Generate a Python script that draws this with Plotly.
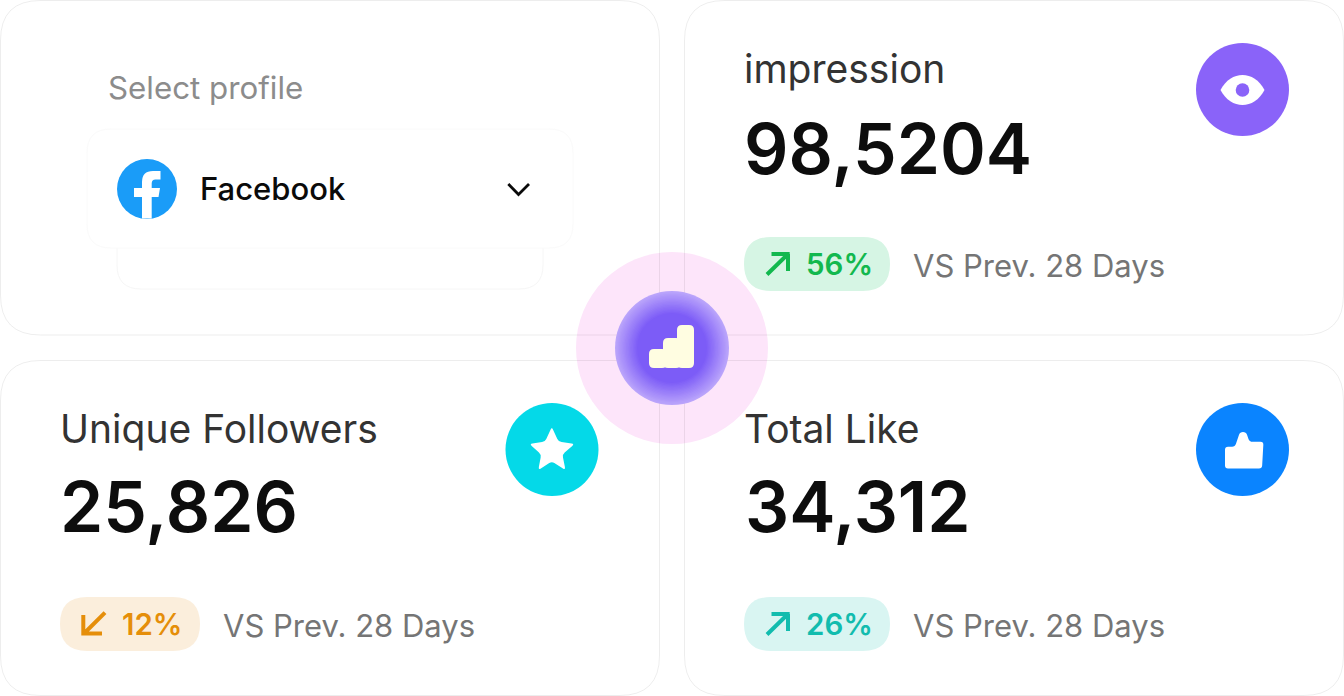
import plotly.graph_objects as go

# ---- chart content ----
profile_label = "Select profile"
profile_name = "Facebook"
kpi_titles = ["impression", "Unique Followers", "Total Like"]
kpi_values = ["98,5204", "25,826", "34,312"]
kpi_deltas = ["56%", "12%", "26%"]
compare_text = "VS Prev. 28 Days"

FONT = "Inter"
W, H = 1344, 696
shapes = []
annos = []


def rrect(x0, y0, x1, y1, r):
    return (f"M{x0+r} {y0} L{x1-r} {y0} Q{x1} {y0} {x1} {y0+r} L{x1} {y1-r} Q{x1} {y1} {x1-r} {y1} "
            f"L{x0+r} {y1} Q{x0} {y1} {x0} {y1-r} L{x0} {y0+r} Q{x0} {y0} {x0+r} {y0} Z")


def rpoly(pts, r):
    """Closed polygon with softened corners."""
    n = len(pts)
    d = ""
    for i in range(n):
        p0, p1, p2 = pts[i - 1], pts[i], pts[(i + 1) % n]
        def toward(a, b):
            dx, dy = b[0] - a[0], b[1] - a[1]
            L = (dx * dx + dy * dy) ** 0.5
            k = min(r, L / 2) / L
            return a[0] + dx * k, a[1] + dy * k
        a = toward(p1, p0)
        b = toward(p1, p2)
        d += f"{'M' if i == 0 else 'L'}{a[0]:.2f} {a[1]:.2f} Q{p1[0]} {p1[1]} {b[0]:.2f} {b[1]:.2f} "
    return d + "Z"


def path(d, fill=None, line=None, lw=0, opacity=1):
    shapes.append(dict(type="path", path=d, xref="x", yref="y", fillcolor=fill or "rgba(0,0,0,0)",
                       line=dict(color=line or "rgba(0,0,0,0)", width=lw), opacity=opacity))


def circle(cx, cy, r, fill, line=None, lw=0, opacity=1):
    shapes.append(dict(type="circle", xref="x", yref="y", x0=cx - r, x1=cx + r, y0=cy - r, y1=cy + r,
                       fillcolor=fill, line=dict(color=line or "rgba(0,0,0,0)", width=lw), opacity=opacity))


def text(x, y, s, size, color, weight=400, anchor="left"):
    annos.append(dict(x=x, y=y, xref="x", yref="y", text=s, showarrow=False, xanchor=anchor, yanchor="middle",
                      font=dict(family=FONT, size=size, color=color, weight=weight), borderpad=0, borderwidth=0))


# halo behind the card outlines
circle(672, 348, 96, "#fde5fa")

# cards
CARD_LINE = "rgba(0,0,0,0.07)"
for x0, y0, x1, y1 in [(0.5, 0.5, 659.5, 335), (684.5, 0.5, 1343.5, 335),
                       (0.5, 360.5, 659.5, 695.5), (684.5, 360.5, 1343.5, 695.5)]:
    path(rrect(x0, y0, x1, y1, 40), line=CARD_LINE, lw=1)

# dropdown shadow and cards
path(rrect(117, 200, 543, 289, 24), fill="#ffffff", line="#f6f6f6", lw=1)
for g in range(20, 0, -2):
    path(rrect(87 - g, 129 - g + 4, 573 + g, 248 + g + 4, 24 + g), fill="#000000", opacity=0.0018)
path(rrect(87, 129, 573, 248, 24), fill="#ffffff", line="#fafafa", lw=1)

# facebook logo
circle(147, 189, 30, "#1a9cf8")
path("M142 218.6 L142 197 L134 197 L134 188 L142 188 L142 182 Q142 171 153 171 L160.5 171 L160.5 179.5 "
     "L155.5 179.5 Q151.7 179.5 151.7 183.5 L151.7 188 L160 188 L158.5 197 L151.7 197 L151.7 218.6 Z", fill="#ffffff")
# chevron
path("M508.3 184 L518.5 194.5 L529 184", line="#0a0a0a", lw=2.8)

# center badge with radial falloff
STEPS = 16
for i in range(STEPS + 1):
    t = i / STEPS
    r = 57 - 22 * t
    c = (186 + (124 - 186) * t, 164 + (92 - 164) * t, 251 + (247 - 251) * t)
    circle(672, 348, r, f"rgb({c[0]:.0f},{c[1]:.0f},{c[2]:.0f})")
for x0, y0, x1 in [(649, 349, 667), (663, 338, 681), (677, 325, 694)]:
    path(rrect(x0, y0, x1, 368, 5), fill="#fffde1")

# KPI icons
circle(1242.5, 89.5, 46.5, "#8a63f9")
path("M1220.5 90 C1231 70 1254 70 1264.5 90 C1254 110 1231 110 1220.5 90 Z", fill="#ffffff")
circle(1242.5, 90, 6.8, "#8a63f9")

circle(552, 449.5, 46.5, "#04d9e8")
path(rpoly([(551.8, 427), (558.6, 441.6), (574.5, 444), (562.4, 454.5), (565.5, 470), (551.8, 461.5),
            (538.3, 470), (541.2, 454.5), (529.5, 444), (545, 441.6)], 3), fill="#ffffff")

circle(1242.5, 449.5, 46.5, "#0a84ff")
path(rpoly([(1225, 446.7), (1235, 446.7), (1240, 432), (1246, 432), (1249.5, 441.7), (1263.5, 441.7),
            (1262, 468.5), (1225, 468.5)], 3), fill="#ffffff")

# pills
PILLS = [(744, 237, 890, 291, "#d6f5e4"), (60, 597, 200, 651, "#fbeedc"), (744, 597, 890, 651, "#d9f5f2")]
INK = ["#12b84e", "#e58e0a", "#12bcae"]
for (x0, y0, x1, y1, c) in PILLS:
    path(rrect(x0, y0, x1, y1, 27), fill=c)

# arrows
path("M767 274.5 L788 254 M771.5 254 L789.7 254 L788 254 L788 271", line=INK[0], lw=4)
path("M105 612.7 L84 633.5 M83.3 615 L83.3 635.5 L83.3 633.5 L102 633.5", line=INK[1], lw=4)
path("M767 634.5 L788 614 M771.5 614 L789.7 614 L788 614 L788 631", line=INK[2], lw=4)

# texts
text(108, 87.5, profile_label, 31.3, "#8c8c8c")
text(200, 188.5, profile_name, 31, "#0a0a0a", 500)

TITLE_POS = [(744, 68.5), (60, 428.5), (744, 428.5)]
VALUE_POS = [(744, 148.5), (60, 507), (745, 507)]
DELTA_POS = [(806, 264), (122, 624), (806, 624)]
COMP_POS = [(913, 265), (223, 625), (913, 625)]
for i in range(3):
    text(*TITLE_POS[i], kpi_titles[i], 39, "#333333")
    text(*VALUE_POS[i], kpi_values[i], 69.5, "#0d0d0d", 600)
    text(*DELTA_POS[i], kpi_deltas[i], 29.5, INK[i], 600)
    text(*COMP_POS[i], compare_text, 31, "#757575")

fig = go.Figure()
fig.update_layout(
    width=W, height=H, margin=dict(l=0, r=0, t=0, b=0), showlegend=False,
    paper_bgcolor="#ffffff", plot_bgcolor="#ffffff", shapes=shapes, annotations=annos,
    xaxis=dict(range=[0, W], visible=False, fixedrange=True),
    yaxis=dict(range=[H, 0], visible=False, fixedrange=True),
)
fig.write_html("out.html", config=dict(displayModeBar=False, staticPlot=True),
               post_script="document.body.style.margin='0';document.body.style.overflow='hidden';")
